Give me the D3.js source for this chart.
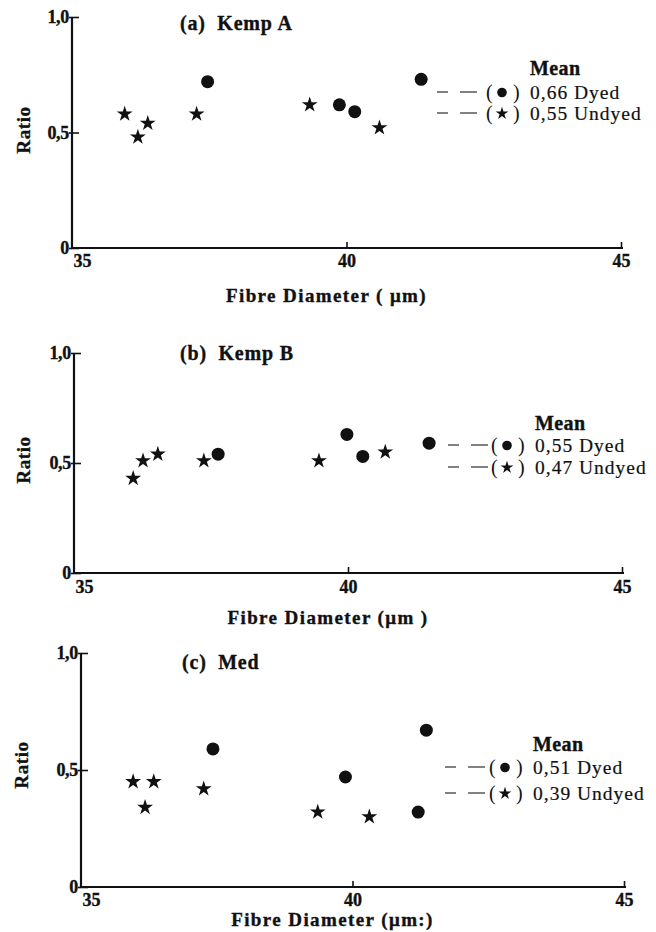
<!DOCTYPE html>
<html>
<head>
<meta charset="utf-8">
<script src="https://cdn.jsdelivr.net/npm/d3@7"></script>
<style>
  html, body { margin: 0; padding: 0; background: #fff; }
  svg { display: block; }
  text { font-family: "Liberation Serif", "DejaVu Serif", serif; fill: #111; }
</style>
</head>
<body>
<svg id="chart" width="656" height="932"></svg>
<script>
// ---------------- DATA ----------------
const xTicks = [35, 40, 45];
const yTicks = [0, 0.5, 1.0];
const yTickLabels = ["0", "0,5", "1,0"];
const panelTitles = ["(a)  Kemp A", "(b)  Kemp B", "(c)  Med"];
const xAxisTitles = ["Fibre Diameter ( \u03bcm)", "Fibre Diameter (\u03bcm )", "Fibre Diameter (\u03bcm:)"];
const yAxisTitle = "Ratio";
const legendHeader = "Mean";
const seriesNames = ["Dyed", "Undyed"];
const meanDyed = [0.66, 0.55, 0.51];
const meanUndyed = [0.55, 0.47, 0.39];

// [fibre diameter (µm), ratio]
const kempA_dyed   = [[37.47, 0.72], [39.87, 0.62], [40.15, 0.59], [41.36, 0.73]];
const kempA_undyed = [[35.96, 0.58], [36.20, 0.48], [36.38, 0.54], [37.27, 0.58], [39.33, 0.62], [40.60, 0.52]];
const kempB_dyed   = [[37.63, 0.54], [39.98, 0.63], [40.27, 0.53], [41.48, 0.59]];
const kempB_undyed = [[36.08, 0.43], [36.26, 0.51], [36.53, 0.54], [37.37, 0.51], [39.47, 0.51], [40.68, 0.55]];
const med_dyed     = [[37.43, 0.59], [39.87, 0.47], [41.21, 0.32], [41.36, 0.67]];
const med_undyed   = [[35.96, 0.45], [36.34, 0.45], [36.18, 0.34], [37.26, 0.42], [39.36, 0.32], [40.31, 0.30]];

const dyedSets = [kempA_dyed, kempB_dyed, med_dyed];
const undyedSets = [kempA_undyed, kempB_undyed, med_undyed];

// ---------------- LAYOUT ----------------
const layouts = [
  { left: 72, right: 621, top: 17,  bottom: 248, tickY: 13, titleY: 302, ratioY: 130, ratioX: 23,
    titleX: 180, titleTop: 23, legX: 437, legTextX: 530, legY: [68, 92, 113] },
  { left: 74, right: 622, top: 353, bottom: 573, tickY: 14, titleY: 624, ratioY: 460, ratioX: 23,
    titleX: 180, titleTop: 353, legX: 448, legTextX: 535, legY: [423, 445, 467] },
  { left: 81, right: 624, top: 653, bottom: 887, tickY: 13, titleY: 926, ratioY: 765, ratioX: 21,
    titleX: 182, titleTop: 662, legX: 445, legTextX: 533, legY: [744, 767, 793] }
];

const ink = "#111";
const svg = d3.select("#chart");
const fmt = v => d3.format(".2f")(v).replace(".", ",");
const heavy = sel => sel.attr("stroke", ink).attr("stroke-width", 0.35);

layouts.forEach((L, i) => {
  const g = svg.append("g");
  const x = d3.scaleLinear().domain([35, 45]).range([L.left, L.right]);
  const y = d3.scaleLinear().domain([0, 1]).range([L.bottom, L.top]);

  // y axis
  const yAxis = d3.axisLeft(y).tickValues(yTicks).tickSize(-7).tickPadding(3)
    .tickFormat((d, k) => yTickLabels[k]);
  const ya = g.append("g").attr("transform", `translate(${L.left},0)`).call(yAxis);
  ya.select(".domain").attr("stroke", ink).attr("stroke-width", 2.2).attr("d", `M0,${L.top}V${L.bottom}`);
  ya.selectAll(".tick line").attr("stroke", ink).attr("stroke-width", 1.6).attr("x1", -3);
  ya.selectAll(".tick text").attr("font-family", "Liberation Serif").attr("font-weight", "bold")
    .attr("font-size", 18).attr("fill", ink).attr("x", -3).attr("letter-spacing", -0.3).call(heavy);

  // x axis
  const xAxis = d3.axisBottom(x).tickValues(xTicks).tickSize(-6).tickPadding(0).tickFormat(d3.format("d"));
  const xa = g.append("g").attr("transform", `translate(0,${L.bottom})`).call(xAxis);
  xa.select(".domain").attr("stroke", ink).attr("stroke-width", 2.2).attr("d", `M${L.left},0H${L.right + 2}`);
  xa.selectAll(".tick line").attr("stroke", ink).attr("stroke-width", 1.6)
    .attr("opacity", d => d === 35 ? 0 : 1);
  xa.selectAll(".tick text").attr("font-family", "Liberation Serif").attr("font-weight", "bold")
    .attr("font-size", 18).attr("fill", ink).attr("y", L.tickY).attr("dy", "0.35em")
    .attr("dx", d => d === 35 ? 10 : 0).call(heavy);

  // axis titles
  g.append("text").attr("x", (L.left + L.right) / 2 - 20).attr("y", L.titleY)
    .attr("text-anchor", "middle").attr("font-weight", "bold").attr("font-size", 19)
    .attr("letter-spacing", 1.4).attr("xml:space", "preserve").call(heavy)
    .text(xAxisTitles[i]);
  g.append("text").attr("transform", `translate(${L.ratioX},${L.ratioY}) rotate(-90)`)
    .attr("text-anchor", "middle").attr("dy", "0.35em").attr("font-weight", "bold").attr("font-size", 19)
    .attr("letter-spacing", 0.6).call(heavy).text(yAxisTitle);

  // panel title
  g.append("text").attr("x", L.titleX).attr("y", L.titleTop).attr("dy", "0.35em")
    .attr("font-weight", "bold").attr("font-size", 20).attr("letter-spacing", 0.8)
    .attr("xml:space", "preserve").call(heavy).text(panelTitles[i]);

  // data: dyed (dots)
  g.selectAll("circle.dyed").data(dyedSets[i]).join("circle").attr("class", "dyed")
    .attr("cx", d => x(d[0])).attr("cy", d => y(d[1])).attr("r", 6.5).attr("fill", ink);

  // data: undyed (stars)
  const star = d3.symbol().type(d3.symbolStar).size(78);
  g.selectAll("path.undyed").data(undyedSets[i]).join("path").attr("class", "undyed")
    .attr("transform", d => `translate(${x(d[0])},${y(d[1])})`).attr("d", star()).attr("fill", ink);

  // legend
  g.append("text").attr("x", L.legTextX).attr("y", L.legY[0]).attr("dy", "0.35em")
    .attr("font-weight", "bold").attr("font-size", 20).attr("letter-spacing", 0.4).call(heavy)
    .text(legendHeader);
  const means = [meanDyed[i], meanUndyed[i]];
  [0, 1].forEach(k => {
    const yy = L.legY[k + 1];
    g.append("line").attr("x1", L.legX).attr("x2", L.legX + 11).attr("y1", yy).attr("y2", yy)
      .attr("stroke", ink).attr("stroke-width", 1.4).attr("opacity", 0.75);
    g.append("line").attr("x1", L.legX + 23).attr("x2", L.legX + 40).attr("y1", yy).attr("y2", yy)
      .attr("stroke", ink).attr("stroke-width", 1.4).attr("opacity", 0.75);
    const px = L.legTextX - 44;
    g.append("text").attr("x", px).attr("y", yy).attr("dy", "0.35em").attr("font-size", 20).text("(");
    g.append("text").attr("x", px + 27).attr("y", yy).attr("dy", "0.35em").attr("font-size", 20).text(")");
    if (k === 0) {
      g.append("circle").attr("cx", px + 16).attr("cy", yy + 0.5).attr("r", 4.8).attr("fill", ink);
    } else {
      g.append("path").attr("transform", `translate(${px + 16},${yy + 0.5})`)
        .attr("d", d3.symbol().type(d3.symbolStar).size(50)()).attr("fill", ink);
    }
    g.append("text").attr("x", L.legTextX).attr("y", yy).attr("dy", "0.35em").attr("font-size", 19.5)
      .attr("letter-spacing", 1).attr("stroke", ink).attr("stroke-width", 0.2)
      .text(`${fmt(means[k])} ${seriesNames[k]}`);
  });
});
</script>
</body>
</html>
